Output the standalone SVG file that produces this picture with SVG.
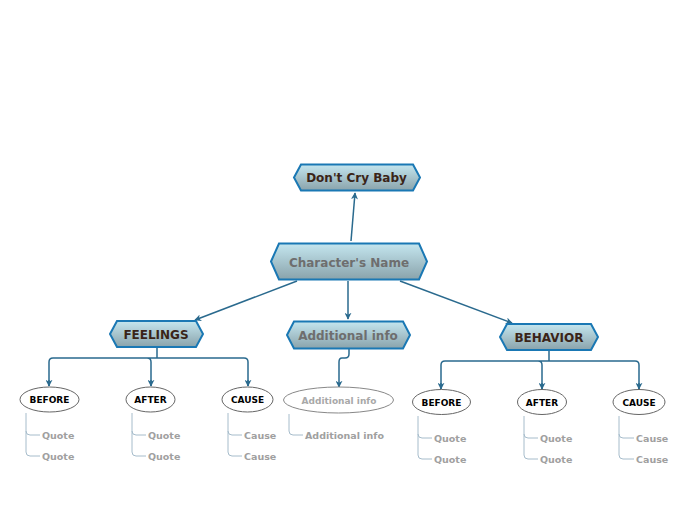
<svg xmlns="http://www.w3.org/2000/svg" width="696" height="520" viewBox="0 0 696 520">
<defs>
<linearGradient id="hg" x1="0" y1="0" x2="0" y2="1">
<stop offset="0" stop-color="#c4e6ef"/>
<stop offset="1" stop-color="#8aa3ab"/>
</linearGradient>
<marker id="ar" viewBox="0 0 10 10" refX="9" refY="5" markerWidth="7" markerHeight="7" orient="auto-start-reverse" markerUnits="userSpaceOnUse">
<path d="M0,0 L10,5 L0,10 L3,5 Z" fill="#2a6a8e"/>
</marker>
<style>
.hex{fill:url(#hg);stroke:#1a78b4;stroke-width:2}
.ht{font-family:"DejaVu Sans",Verdana,sans-serif;font-weight:bold;font-size:12px;text-anchor:middle;fill:#3a2418}
.hg{fill:#6e6e6e}
.el{fill:#fff;stroke:#666;stroke-width:1}
.ela{stroke:#888}
.et{font-family:"DejaVu Sans",Verdana,sans-serif;font-weight:bold;font-size:9px;text-anchor:middle;fill:#000}
.ea{fill:#a8a8a8}
.st{font-family:"DejaVu Sans",Verdana,sans-serif;font-weight:bold;font-size:9.5px;fill:#a0a0a0}
.sl{fill:none;stroke:#a6bccb;stroke-width:1}
.cn{fill:none;stroke:#2a6a8e;stroke-width:1.5}
</style>
</defs>
<rect width="696" height="520" fill="#fff"/>
<g id="connectors">
<path class="cn" d="M351,241 L355,193" marker-end="url(#ar)"/>
<path class="cn" d="M297,281 L195,320" marker-end="url(#ar)"/>
<path class="cn" d="M348,281 L348,319" marker-end="url(#ar)"/>
<path class="cn" d="M400,281 L512,323" marker-end="url(#ar)"/>
<path class="cn" d="M157,348 L157,358 M157,358 L53,358 Q49,358 49,362 L49,386 M157,358 L147,358 Q151,358 151,362 L151,386 M157,358 L244,358 Q248,358 248,362 L248,386"/>
<path class="cn" d="M49,380 L49,386" marker-end="url(#ar)"/>
<path class="cn" d="M151,380 L151,386" marker-end="url(#ar)"/>
<path class="cn" d="M248,380 L248,386" marker-end="url(#ar)"/>
<path class="cn" d="M349,349 L349,354 Q349,358 345,358 L342,358 Q339,358 339,362 L339,387" marker-end="url(#ar)"/>
<path class="cn" d="M549,351 L549,361 M549,361 L445,361 Q441,361 441,365 L441,389 M549,361 L538,361 Q542,361 542,365 L542,389 M549,361 L635,361 Q639,361 639,365 L639,389"/>
<path class="cn" d="M441,383 L441,389" marker-end="url(#ar)"/>
<path class="cn" d="M542,383 L542,389" marker-end="url(#ar)"/>
<path class="cn" d="M639,383 L639,389" marker-end="url(#ar)"/>
<path class="sl" d="M26,413 L26,431 Q26,435 30,435 L40,435 M26,431 L26,452 Q26,456 30,456 L40,456"/>
<path class="sl" d="M132,413 L132,431 Q132,435 136,435 L146,435 M132,431 L132,452 Q132,456 136,456 L146,456"/>
<path class="sl" d="M228,413 L228,431 Q228,435 232,435 L242,435 M228,431 L228,452 Q228,456 232,456 L242,456"/>
<path class="sl" d="M289,414 L289,431 Q289,435 293,435 L303,435"/>
<path class="sl" d="M418,416 L418,434 Q418,438 422,438 L432,438 M418,434 L418,455 Q418,459 422,459 L432,459"/>
<path class="sl" d="M524,416 L524,434 Q524,438 528,438 L538,438 M524,434 L524,455 Q524,459 528,459 L538,459"/>
<path class="sl" d="M619,416 L619,434 Q619,438 623,438 L634,438 M619,434 L619,455 Q619,459 623,459 L634,459"/>
</g>
<g id="dont-cry-baby">
<polygon class="hex" points="294,177.5 301,164.5 413,164.5 420,177.5 413,190.5 301,190.5"/>
<text class="ht" x="356.5" y="182">Don't Cry Baby</text>
</g>
<g id="characters-name">
<polygon class="hex" points="271,261.5 279,243.5 419,243.5 427,261.5 419,279.5 279,279.5"/>
<text class="ht hg" x="349" y="266.5">Character's Name</text>
</g>
<g id="feelings">
<polygon class="hex" points="110,334 117,321 196,321 203,334 196,347 117,347"/>
<text class="ht" x="156" y="339">FEELINGS</text>
</g>
<g id="additional-info">
<polygon class="hex" points="287,335 294,321.5 403,321.5 410,335 403,348.5 294,348.5"/>
<text class="ht hg" x="348" y="339.5">Additional info</text>
</g>
<g id="behavior">
<polygon class="hex" points="500,337 507,324 591,324 598,337 591,350 507,350"/>
<text class="ht" x="549" y="342">BEHAVIOR</text>
</g>
<g id="f-before">
<ellipse class="el" cx="49.5" cy="399.5" rx="29.5" ry="12.5"/>
<text class="et" x="49.5" y="403">BEFORE</text>
</g>
<g id="f-after">
<ellipse class="el" cx="150.5" cy="399.5" rx="24.5" ry="12.5"/>
<text class="et" x="150.5" y="403">AFTER</text>
</g>
<g id="f-cause">
<ellipse class="el" cx="247.5" cy="399.5" rx="25.5" ry="12.5"/>
<text class="et" x="247.5" y="403">CAUSE</text>
</g>
<g id="a-info">
<ellipse class="el ela" cx="338.5" cy="400" rx="55" ry="13"/>
<text class="et ea" x="339" y="403.5">Additional info</text>
</g>
<g id="b-before">
<ellipse class="el" cx="441.5" cy="402" rx="29" ry="12.5"/>
<text class="et" x="441.5" y="405.5">BEFORE</text>
</g>
<g id="b-after">
<ellipse class="el" cx="542" cy="402" rx="24.5" ry="12.5"/>
<text class="et" x="542" y="405.5">AFTER</text>
</g>
<g id="b-cause">
<ellipse class="el" cx="639" cy="402" rx="26" ry="12.5"/>
<text class="et" x="639" y="405.5">CAUSE</text>
</g>
<g id="subitems">
<text class="st" x="42" y="439">Quote</text>
<text class="st" x="42" y="460">Quote</text>
<text class="st" x="148" y="439">Quote</text>
<text class="st" x="148" y="460">Quote</text>
<text class="st" x="244" y="439">Cause</text>
<text class="st" x="244" y="460">Cause</text>
<text class="st" x="305" y="439">Additional info</text>
<text class="st" x="434" y="442">Quote</text>
<text class="st" x="434" y="463">Quote</text>
<text class="st" x="540" y="442">Quote</text>
<text class="st" x="540" y="463">Quote</text>
<text class="st" x="636" y="442">Cause</text>
<text class="st" x="636" y="463">Cause</text>
</g>
</svg>
